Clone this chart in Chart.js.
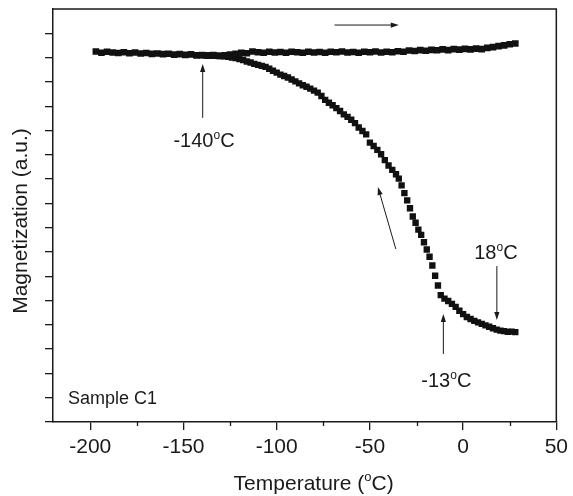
<!DOCTYPE html>
<html>
<head>
<meta charset="utf-8">
<script src="https://cdn.jsdelivr.net/npm/chart.js@4.4.0/dist/chart.umd.min.js"></script>
<style>
    html, body { margin: 0; padding: 0; background: #fff; }
</style>
</head>
<body>
<canvas id="magnetization-chart" width="573" height="496"></canvas>
<script>
    // Heating branch (upper curve)
    var heatTemp = [-197, -194, -191, -188, -185, -182, -179, -176, -173, -170,
        -167, -164, -161, -158, -155, -152, -149, -146, -143, -140,
        -137, -134, -131, -128, -125, -122, -119, -116, -113, -110,
        -107, -104, -101, -98, -95, -92, -89, -86, -83, -80,
        -77, -74, -71, -68, -65, -62, -59, -56, -53, -50,
        -47, -44, -41, -38, -35, -32, -29, -26, -23, -20,
        -17, -14, -11, -8, -5, -2, 1, 4, 7, 10,
        13, 16, 19, 22, 25, 28];
    var heatMag = [15.25, 15.20, 15.24, 15.21, 15.19, 15.22, 15.18, 15.21, 15.17, 15.19,
        15.15, 15.17, 15.14, 15.16, 15.12, 15.14, 15.11, 15.13, 15.09, 15.10,
        15.08, 15.10, 15.07, 15.09, 15.12, 15.16, 15.20, 15.18, 15.25, 15.22,
        15.20, 15.24, 15.21, 15.23, 15.20, 15.24, 15.22, 15.20, 15.24, 15.21,
        15.23, 15.20, 15.24, 15.22, 15.25, 15.21, 15.23, 15.20, 15.24, 15.22,
        15.25, 15.21, 15.24, 15.22, 15.26, 15.24, 15.29, 15.27, 15.31, 15.28,
        15.32, 15.30, 15.34, 15.31, 15.35, 15.33, 15.36, 15.34, 15.37, 15.35,
        15.40, 15.43, 15.47, 15.50, 15.55, 15.58];

    // Cooling branch (lower curve)
    var coolTemp = [28, 26, 24, 22, 20, 18, 16, 14, 12, 10,
        8, 6, 4, 2, 0, -2, -4, -6, -8, -10,
        -12, -13.5, -15, -16.5, -18, -19.5, -21, -22.5, -24, -25.5,
        -27, -28.5, -30, -31.5, -33, -34.5, -36, -38, -40, -42,
        -44, -46, -48, -50, -52, -54, -56, -58, -60, -62,
        -64, -66, -68, -70, -72, -74, -76, -78, -80, -82,
        -84, -86, -88, -90, -92, -94, -96, -98, -100, -102,
        -104, -106, -108, -110, -112, -114, -116, -118, -120, -122,
        -124, -126, -128, -130, -132, -134, -136, -138, -140];
    var coolMag = [3.70, 3.72, 3.71, 3.74, 3.76, 3.80, 3.86, 3.92, 3.98, 4.04,
        4.10, 4.16, 4.24, 4.32, 4.44, 4.58, 4.74, 4.86, 4.98, 5.08,
        5.22, 5.62, 6.02, 6.44, 6.80, 7.10, 7.40, 7.70, 7.92, 8.20,
        8.46, 8.80, 9.12, 9.42, 9.74, 10.02, 10.20, 10.38, 10.56, 10.78,
        11.02, 11.20, 11.36, 11.50, 11.84, 11.98, 12.12, 12.30, 12.44, 12.56,
        12.66, 12.80, 12.92, 13.04, 13.14, 13.26, 13.42, 13.56, 13.64, 13.72,
        13.80, 13.86, 13.94, 14.02, 14.10, 14.18, 14.24, 14.30, 14.38, 14.46,
        14.54, 14.62, 14.66, 14.70, 14.74, 14.80, 14.84, 14.90, 14.94, 14.98,
        15.00, 15.03, 15.05, 15.06, 15.08, 15.07, 15.10, 15.09, 15.10];

    var xMajorTicks = [-200, -150, -100, -50, 0, 50];
    var xMinorTicks = [-175, -125, -75, -25, 25];

    // annotation texts: [before, superscript, after, temp, magnetization]
    var notes = [
        ['-140', 'o', 'C', -139, 11.6],
        ['18', 'o', 'C', 17.6, 7.0],
        ['-13', 'o', 'C', -9, 1.73]
    ];
    // arrows: [fromTemp, fromMag, toTemp, toMag], head at the "to" end
    var arrows = [
        [-139.7, 12.52, -139.7, 14.74],
        [-69, 16.34, -34.5, 16.34],
        [-36.1, 7.12, -45.7, 9.67],
        [18.1, 6.42, 18.1, 4.20],
        [-10.6, 2.80, -10.6, 4.45]
    ];

    var FONT = '"Liberation Sans", Arial, Helvetica, sans-serif';
    var INK = '#1a1a1a';

    function toPoints(xs, ys) {
        return xs.map(function (x, i) {
            return {x: x, y: ys[i]};
        });
    }

    // text with a small raised "o" for the degree sign, centred on cx
    function drawSupText(ctx, pre, sup, post, cx, baseline, size) {
        var supSize = Math.round(size * 0.62);
        ctx.font = size + 'px ' + FONT;
        var w1 = ctx.measureText(pre).width;
        var w3 = ctx.measureText(post).width;
        ctx.font = supSize + 'px ' + FONT;
        var w2 = ctx.measureText(sup).width;
        var x = cx - (w1 + w2 + w3) / 2;
        ctx.textAlign = 'left';
        ctx.textBaseline = 'alphabetic';
        ctx.font = size + 'px ' + FONT;
        ctx.fillText(pre, x, baseline);
        ctx.font = supSize + 'px ' + FONT;
        ctx.fillText(sup, x + w1, baseline - size * 0.42);
        ctx.font = size + 'px ' + FONT;
        ctx.fillText(post, x + w1 + w2, baseline);
    }

    function drawArrow(ctx, x1, y1, x2, y2) {
        var ang = Math.atan2(y2 - y1, x2 - x1);
        var len = 8, half = 2.6;
        ctx.beginPath();
        ctx.moveTo(x1, y1);
        ctx.lineTo(x2 - Math.cos(ang) * len * 0.8, y2 - Math.sin(ang) * len * 0.8);
        ctx.stroke();
        ctx.beginPath();
        ctx.moveTo(x2, y2);
        ctx.lineTo(x2 - Math.cos(ang) * len - Math.sin(ang) * half, y2 - Math.sin(ang) * len + Math.cos(ang) * half);
        ctx.lineTo(x2 - Math.cos(ang) * len + Math.sin(ang) * half, y2 - Math.sin(ang) * len - Math.cos(ang) * half);
        ctx.closePath();
        ctx.fill();
    }

    var decorations = {
        id: 'decorations',
        afterDraw: function (chart) {
            var ctx = chart.ctx;
            var area = chart.chartArea;
            var xs = chart.scales.x;
            var ys = chart.scales.y;
            ctx.save();
            ctx.strokeStyle = INK;
            ctx.fillStyle = INK;

            // top and right frame
            ctx.lineWidth = 1.5;
            ctx.beginPath();
            ctx.moveTo(area.left, area.top);
            ctx.lineTo(area.right, area.top);
            ctx.lineTo(area.right, area.bottom);
            ctx.stroke();

            // minor ticks on the x axis
            ctx.lineWidth = 1.3;
            xMinorTicks.forEach(function (t) {
                var px = Math.round(xs.getPixelForValue(t)) + 0.5;
                ctx.beginPath();
                ctx.moveTo(px, area.bottom);
                ctx.lineTo(px, area.bottom + 4);
                ctx.stroke();
            });

            // arrows
            ctx.lineWidth = 1;
            arrows.forEach(function (a) {
                drawArrow(ctx, xs.getPixelForValue(a[0]), ys.getPixelForValue(a[1]),
                    xs.getPixelForValue(a[2]), ys.getPixelForValue(a[3]));
            });

            // annotation labels
            notes.forEach(function (n) {
                drawSupText(ctx, n[0], n[1], n[2], xs.getPixelForValue(n[3]),
                    ys.getPixelForValue(n[4]) + 7, 20);
            });

            ctx.font = '18px ' + FONT;
            ctx.textAlign = 'left';
            ctx.textBaseline = 'alphabetic';
            ctx.fillText('Sample C1', xs.getPixelForValue(-212), ys.getPixelForValue(0.99) + 6);

            // axis titles
            drawSupText(ctx, 'Temperature (', 'o', 'C)', (area.left + area.right) / 2 + 9, 490, 21);

            ctx.translate(27, 221);
            ctx.rotate(-Math.PI / 2);
            ctx.font = '21px ' + FONT;
            ctx.textAlign = 'center';
            ctx.fillText('Magnetization (a.u.)', 0, 0);
            ctx.restore();
        }
    };

    var chart = new Chart(document.getElementById('magnetization-chart'), {
        type: 'scatter',
        data: {
            datasets: [{
                label: 'Heating',
                data: toPoints(heatTemp, heatMag),
                pointStyle: 'rect',
                pointRadius: 4.7,
                backgroundColor: '#111',
                borderColor: '#111',
                borderWidth: 0,
                showLine: false
            }, {
                label: 'Cooling',
                data: toPoints(coolTemp, coolMag),
                pointStyle: 'rect',
                pointRadius: 4.5,
                backgroundColor: '#111',
                borderColor: '#111',
                borderWidth: 0,
                showLine: false
            }]
        },
        options: {
            responsive: false,
            animation: false,
            devicePixelRatio: 1,
            layout: {padding: {top: 9, right: 12, left: 0, bottom: 0}},
            plugins: {
                legend: {display: false},
                tooltip: {enabled: false}
            },
            scales: {
                x: {
                    type: 'linear',
                    min: -220,
                    max: 50,
                    afterBuildTicks: function (scale) {
                        scale.ticks = xMajorTicks.map(function (v) { return {value: v}; });
                    },
                    afterFit: function (scale) { scale.height = 74; },
                    ticks: {
                        color: INK,
                        padding: 5,
                        maxRotation: 0,
                        font: {family: FONT, size: 21}
                    },
                    grid: {drawOnChartArea: false, tickLength: 8, tickColor: INK, lineWidth: 1.3},
                    border: {color: INK, width: 1.5}
                },
                y: {
                    min: 0,
                    max: 17,
                    ticks: {display: false, stepSize: 1},
                    afterFit: function (scale) { scale.width = 53; },
                    grid: {
                        drawOnChartArea: false,
                        tickLength: 8,
                        lineWidth: 1.3,
                        tickColor: function (ctx) {
                            return ctx.tick && ctx.tick.value === 17 ? 'rgba(0,0,0,0)' : INK;
                        }
                    },
                    border: {color: INK, width: 1.5}
                }
            }
        },
        plugins: [decorations]
    });
</script>
</body>
</html>
